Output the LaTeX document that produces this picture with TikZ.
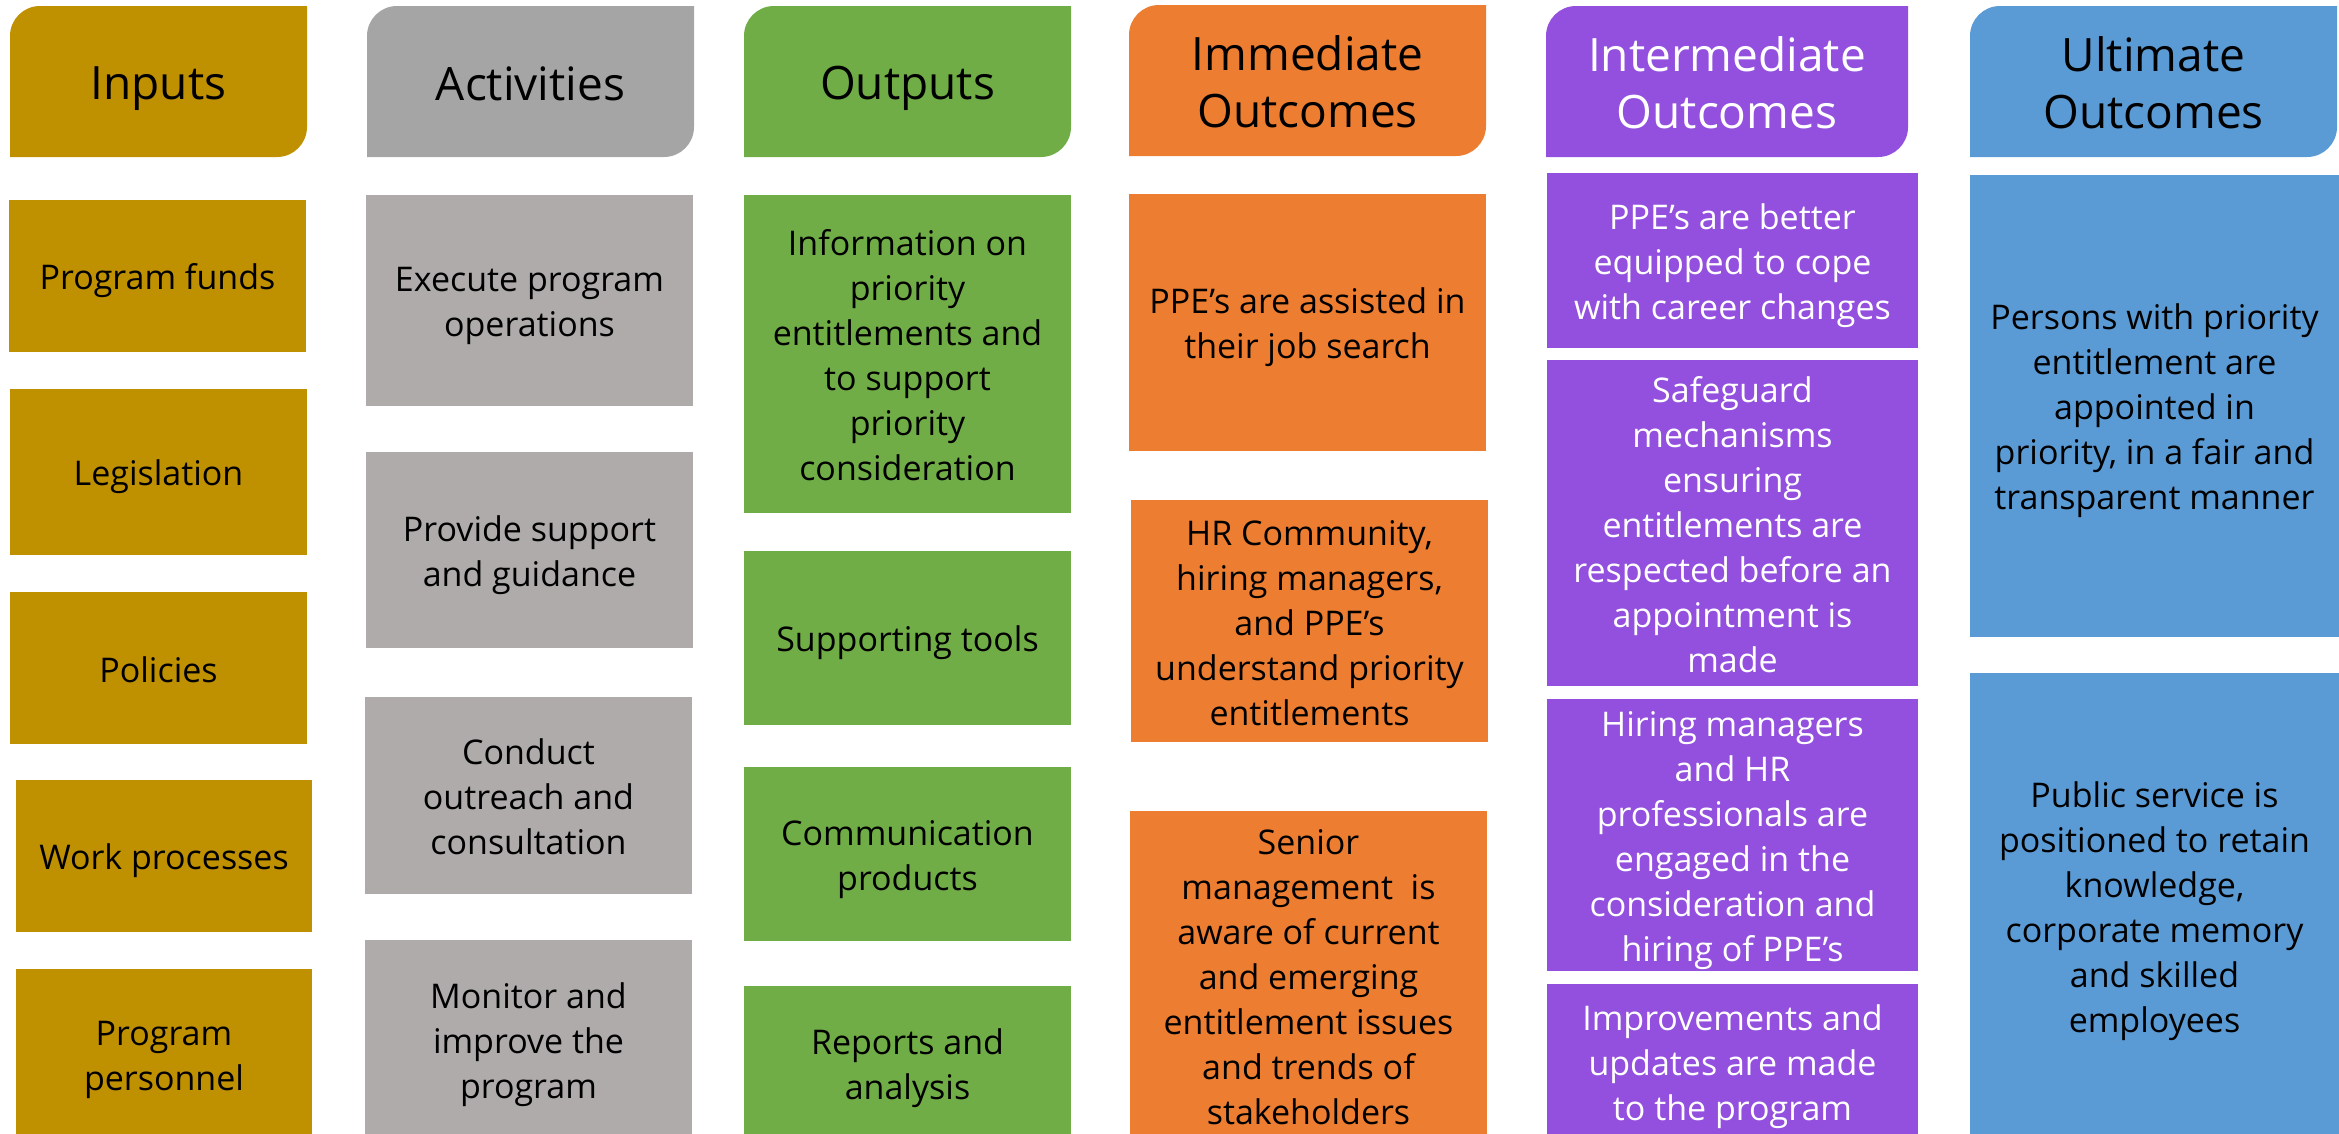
\documentclass[tikz,border=0pt]{standalone}
\usepackage{fontspec}
\setmainfont{Open Sans}

\definecolor{cGold}{HTML}{BF9000}
\definecolor{cGrayHead}{HTML}{A5A5A5}
\definecolor{cGray}{HTML}{AFABAB}
\definecolor{cGreen}{HTML}{70AD47}
\definecolor{cOrange}{HTML}{ED7D31}
\definecolor{cPurple}{HTML}{934FDE}
\definecolor{cBlue}{HTML}{5B9BD5}

% invisible struts giving every text block a fixed line box
\newcommand\bodystrut{\rule[-8pt]{0pt}{44pt}}
\newcommand\headstrut{\rule[-10pt]{0pt}{57pt}}

% body cell: name, style, x1, y1, x2, y2, text (y grows downwards)
\newcommand\cellbox[7]{%
  \node[cell,#2,minimum width={(#5-#3)*1pt},minimum height={(#6-#4)*1pt}]
    (#1) at ({(#3+#5)/2},{(#4+#6)/2}) {\bodystrut#7\bodystrut};}

% column header with rounded top-left and bottom-right corners
\newcommand\headbox[7]{%
  \fill[#2] (#3,#6) -- (#3,#4+30)
     .. controls (#3,#4+13.4) and (#3+13.4,#4) .. (#3+30,#4)
     -- (#5,#4) -- (#5,#6-30)
     .. controls (#5,#6-13.4) and (#5-13.4,#6) .. (#5-30,#6) -- cycle;
  \node[head,#2,fill=none] (#1) at ({(#3+#5)/2},{(#4+#6)/2})
    {\headstrut#7\headstrut};}

\begin{document}
\begin{tikzpicture}[x=1pt,y=-1pt,
  cell/.style={rectangle,inner sep=0pt,outer sep=0pt,align=center,
    text=black,font=\fontsize{34}{45}\selectfont},
  head/.style={inner sep=0pt,align=center,text=black,
    font=\fontsize{46}{57}\selectfont},
  inp/.style={fill=cGold},
  acthead/.style={fill=cGrayHead},
  act/.style={fill=cGray},
  outp/.style={fill=cGreen},
  imm/.style={fill=cOrange},
  inter/.style={fill=cPurple,text=white},
  ult/.style={fill=cBlue}]
\useasboundingbox (0,0) rectangle (2339,1133);
\clip (0,0) rectangle (2339,1133);

% headers
\headbox{hInputs}{inp}{10}{6}{307}{157}{Inputs}
\headbox{hActivities}{acthead}{367}{6}{694}{157}{Activities}
\headbox{hOutputs}{outp}{744}{6}{1071}{157}{Outputs}
\headbox{hImmediate}{imm}{1129}{5}{1486}{156}{Immediate\\Outcomes}
\headbox{hIntermediate}{inter}{1546}{6}{1908}{157}{Intermediate\\Outcomes}
\headbox{hUltimate}{ult}{1970}{6}{2337}{157}{Ultimate\\Outcomes}

% inputs
\cellbox{funds}{inp}{9}{200}{306}{352}{Program funds}
\cellbox{legis}{inp}{10}{389}{307}{555}{Legislation}
\cellbox{policies}{inp}{10}{592}{307}{744}{Policies}
\cellbox{work}{inp}{16}{780}{312}{932}{Work processes}
\cellbox{personnel}{inp}{16}{969}{312}{1140}{Program\\personnel}

% activities
\cellbox{execute}{act}{366}{195}{693}{406}{Execute program\\operations}
\cellbox{provide}{act}{366}{452}{693}{648}{Provide support\\and guidance}
\cellbox{conduct}{act}{365}{697}{692}{894}{Conduct\\outreach and\\consultation}
\cellbox{monitor}{act}{365}{940}{692}{1140}{Monitor and\\improve the\\program}

% outputs
\cellbox{info}{outp}{744}{195}{1071}{513}{Information on\\priority\\entitlements and\\to support\\priority\\consideration}
\cellbox{tools}{outp}{744}{551}{1071}{725}{Supporting tools}
\cellbox{comm}{outp}{744}{767}{1071}{941}{Communication\\products}
\cellbox{reports}{outp}{744}{986}{1071}{1140}{Reports and\\analysis}

% immediate outcomes
\cellbox{assisted}{imm}{1129}{194}{1486}{451}{PPE’s are assisted in\\their job search}
\cellbox{understand}{imm}{1131}{500}{1488}{742}{HR Community,\\hiring managers,\\and PPE’s\\understand priority\\entitlements}
\cellbox{senior}{imm}{1130}{811}{1487}{1140}{Senior\\management\ \ is\\aware of current\\and emerging\\entitlement issues\\and trends of\\stakeholders}

% intermediate outcomes
\cellbox{equipped}{inter}{1547}{173}{1918}{348}{PPE’s are better\\equipped to cope\\with career changes}
\cellbox{safeguard}{inter}{1547}{360}{1918}{686}{Safeguard\\mechanisms\\ensuring\\entitlements are\\respected before an\\appointment is\\made}
\cellbox{engaged}{inter}{1547}{699}{1918}{971}{Hiring managers\\and HR\\professionals are\\engaged in the\\consideration and\\hiring of PPE’s}
\cellbox{improve}{inter}{1547}{984}{1918}{1140}{Improvements and\\updates are made\\to the program}

% ultimate outcomes
\cellbox{appointed}{ult}{1970}{175}{2339}{637}{Persons with priority\\entitlement are\\appointed in\\priority, in a fair and\\transparent manner}
\cellbox{retain}{ult}{1970}{673}{2339}{1140}{Public service is\\positioned to retain\\knowledge,\\corporate memory\\and skilled\\employees}
\end{tikzpicture}
\end{document}
